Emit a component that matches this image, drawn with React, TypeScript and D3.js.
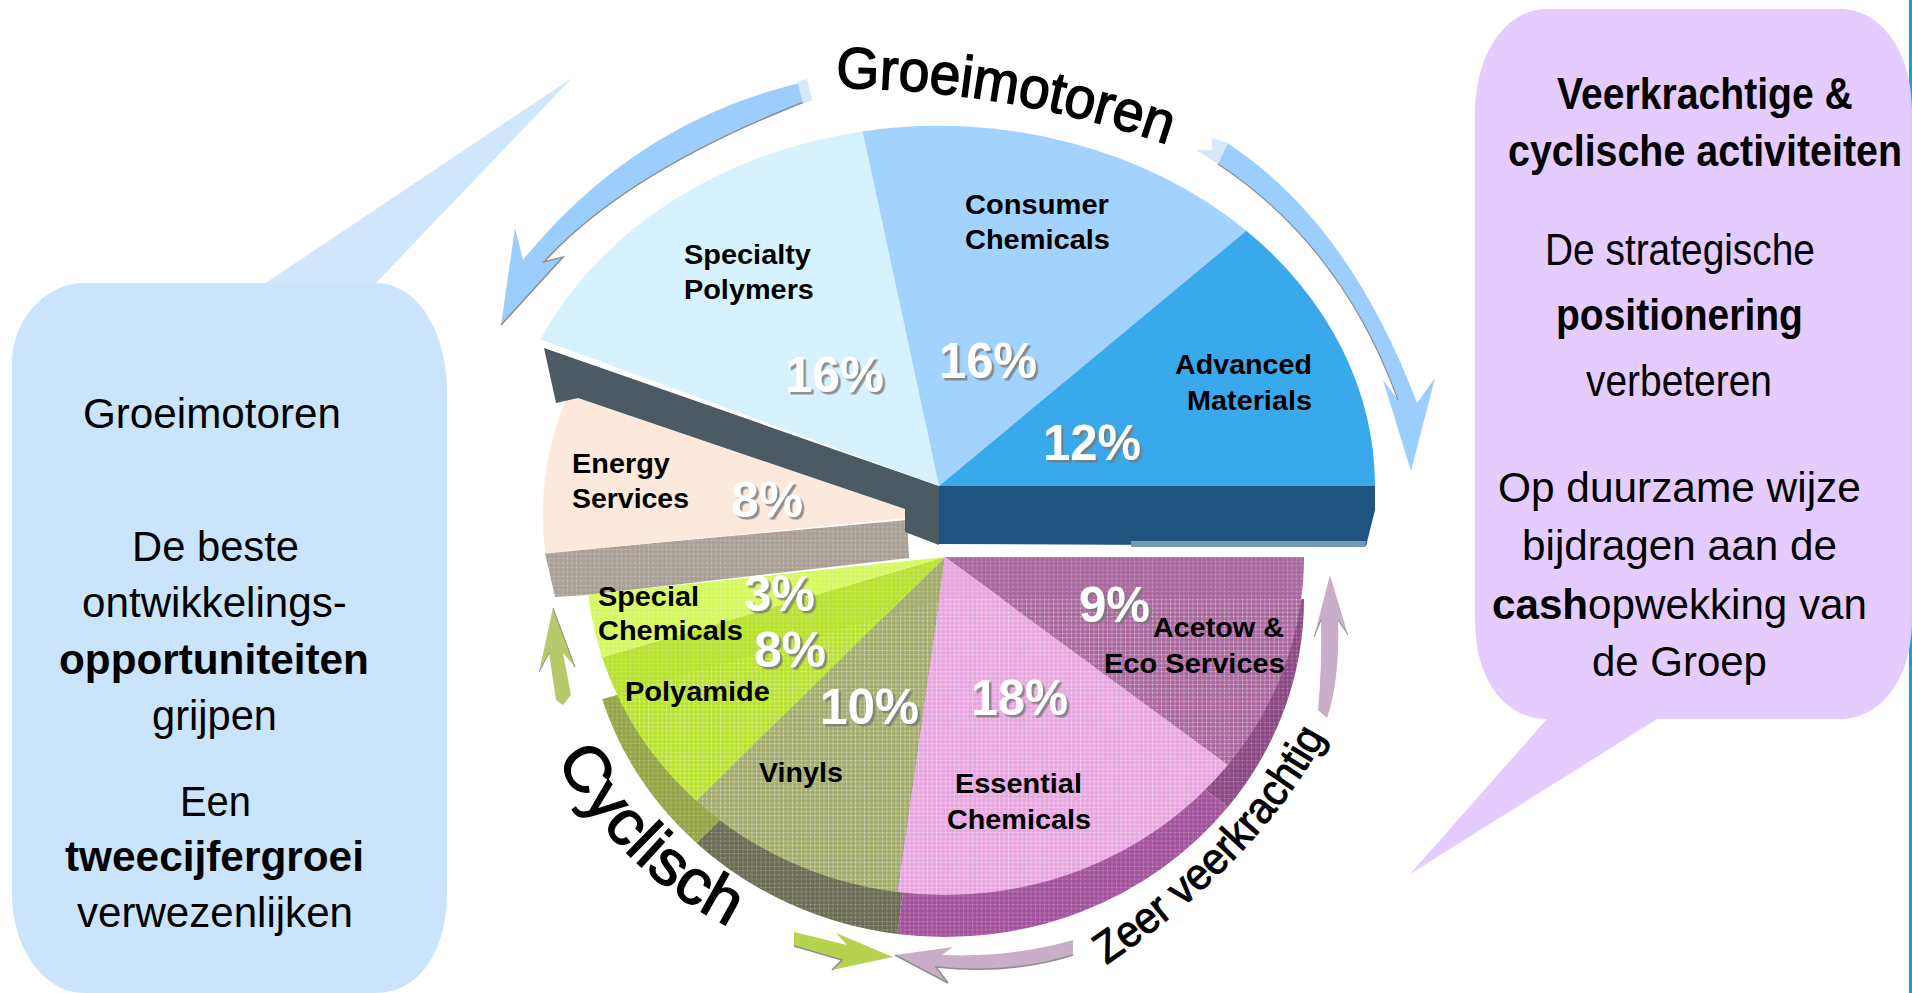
import React from 'react';
import * as d3 from 'd3';

// ---------- data ----------
const growthCategories = [['Specialty', 'Polymers'], ['Consumer', 'Chemicals'], ['Advanced', 'Materials']];
const growthShares = [16, 16, 12];
const energyCategories = [['Energy', 'Services']];
const energyShares = [8];
const resilientCategories = [['Acetow &', 'Eco Services'], ['Essential', 'Chemicals'], ['Vinyls'], ['Polyamide'], ['Special', 'Chemicals']];
const resilientShares = [9, 18, 10, 8, 3];

const leftLines = [
  ['Groeimotoren', 83, 341, 428, 400],
  ['De beste', 132, 299, 561, 400],
  ['ontwikkelings-', 82, 347, 617, 400],
  ['opportuniteiten', 59, 369, 674, 700],
  ['grijpen', 152, 277, 730, 400],
  ['Een', 180, 251, 816, 400],
  ['tweecijfergroei', 65, 364, 871, 700],
  ['verwezenlijken', 77, 353, 927, 400],
] as const;
const rightLines = [
  ['Veerkrachtige &', 1557, 1853, 109, 700],
  ['cyclische activiteiten', 1508, 1902, 166, 700],
  ['De strategische', 1545, 1815, 265, 400],
  ['positionering', 1556, 1803, 330, 700],
  ['verbeteren', 1586, 1772, 396, 400],
  ['Op duurzame wijze', 1498, 1861, 502, 400],
  ['bijdragen aan de', 1522, 1837, 560, 400],
  ['de Groep', 1592, 1767, 676, 400],
] as const;

// ---------- layout ----------
const W = 1912, H = 993;
const FONT = '"Liberation Sans", Arial, sans-serif';
const rad = (d: number) => (d * Math.PI) / 180;

const topPie = { cx: 939, cy: 486, rx: 436, ry: 360, from: -66, to: 90 };
const energyPie = { cx: 926, cy: 516, rx: 383, ry: 340, from: 263.6, to: 292.4 };
const lowPie = { cx: 945, cy: 557, rx: 359, ry: 338, depth: 42, from: 90, to: 263.6 };
// picture's small perspective deviation at slice boundaries (degrees, per slice end)
const topNudge = [-0.8, -2.6, 0];
const lowNudge = [5.4, 0, 0, 0, 0];

const topFill = ['#d6f2ff', '#a2d2fe', '#39a9ec'];
const lowFill = ['#a9689f', '#e7a6df', '#a3ac6d', '#b9e12f', '#d6f85e'];
const lowSide = ['#8b4a84', '#a3539c', '#6c6d54', '#95a445', 'none'];
const energyFill = '#fde8dc';

const unitArc = d3.arc<any>().innerRadius(0).outerRadius(1);
function slices(values: number[], from: number, to: number, nudge: number[] = []) {
  const pie = d3.pie<number>().sort(null).value((d) => d).startAngle(rad(from)).endAngle(rad(to));
  const out = pie(values).map((a) => ({ ...a }));
  out.forEach((s, i) => {
    const n = rad(nudge[i] ?? 0);
    s.endAngle += n;
    if (out[i + 1]) out[i + 1].startAngle += n;
  });
  return out;
}

// natural text width, used to condense each line to the reference's measured span
const measureCtx = document.createElement('canvas').getContext('2d') as CanvasRenderingContext2D;
function natural(t: string, size: number, w: number) {
  measureCtx.font = `${w} ${size}px "Liberation Sans", Arial, sans-serif`;
  return measureCtx.measureText(t).width;
}

function Txt({ t, x0, x1, y, w = 400, size = 28, fill = '#000', filter }: any) {
  const k = (x1 - x0) / natural(t, size, w);
  return (
    <text transform={`translate(${x0},${y}) scale(${k},1)`} fontFamily={FONT}
      fontSize={size} fontWeight={w} fill={fill} filter={filter}>{t}</text>
  );
}

const sliceLabels = [
  ['Specialty', 684, 811, 264], ['Polymers', 684, 814, 299],
  ['Consumer', 965, 1109, 214], ['Chemicals', 965, 1110, 249],
  ['Advanced', 1175, 1312, 374], ['Materials', 1187, 1312, 410],
  ['Energy', 572, 670, 473], ['Services', 572, 689, 508],
  ['Special', 598, 699, 606], ['Chemicals', 598, 743, 640],
  ['Polyamide', 625, 770, 701], ['Vinyls', 759, 843, 782],
  ['Essential', 955, 1082, 793], ['Chemicals', 947, 1091, 829],
  ['Acetow &', 1153, 1284, 637], ['Eco Services', 1104, 1285, 673],
] as const;
const pctPos = [
  [growthShares[0], 785, 884, 392], [growthShares[1], 939, 1037, 378], [growthShares[2], 1043, 1141, 460],
  [energyShares[0], 731, 803, 517],
  [resilientShares[4], 744, 815, 611], [resilientShares[3], 754, 826, 667], [resilientShares[2], 820, 919, 724],
  [resilientShares[1], 971, 1068, 715], [resilientShares[0], 1079, 1150, 622],
] as const;

export default function App() {
  const top = slices(growthShares, topPie.from, topPie.to, topNudge);
  const energy = slices(energyShares, energyPie.from, energyPie.to);
  const low = slices(resilientShares, lowPie.from, lowPie.to, lowNudge);
  const lowArc = d3.arc<any>().innerRadius(0).outerRadius(lowPie.rx);
  const lowScale = `scale(1,${lowPie.ry / lowPie.rx})`;
  const cashK = 375 / (natural('cash', 43, 700) + natural('opwekking van', 43, 400));
  return (
    <svg width={W} height={H} viewBox={`0 0 ${W} ${H}`} style={{ position: 'fixed', left: 0, top: 0, display: 'block', background: '#fff' }}>
      <defs>
        <pattern id="dither" width="4.5" height="4.5" patternUnits="userSpaceOnUse">
          <rect width="4.5" height="1" fill="#fff" opacity="0.1" />
          <rect width="1" height="4.5" fill="#fff" opacity="0.1" />
          <rect width="1" height="1" fill="#fff" opacity="0.3" />
        </pattern>
        <filter id="pctShadow" x="-10%" y="-10%" width="130%" height="130%">
          <feDropShadow dx="2.5" dy="2.5" stdDeviation="0.5" floodColor="#777" floodOpacity="0.8" />
        </filter>
        <clipPath id="energyClip"><path d="M 500 371.5 L 906 509.3 V 610 H 500 Z" /></clipPath>
        <path id="pathGroei" d="M 836 88 Q 1005 88 1172 146" />
        <path id="pathCyc" d="M 556 760 Q 625 880 744 934" />
        <path id="pathZeer" d="M 1106 965 Q 1262 860 1330 728" />
      </defs>

      {/* right edge strip */}
      <rect x={1909} y={0} width={3} height={H} fill="#00a8e4" />

      {/* call-outs */}
      <path d="M 264 284 L 572 78 L 375 284 Z" fill="#cfe6fd" />
      <path d="M 84 283 H 375 C 420 283 447 335 447 393 V 893 C 447 950 420 993 375 993 H 84 C 45 993 12 950 12 893 V 363 C 12 320 45 283 84 283 Z" fill="#cae4fc" />
      <path d="M 1547 9 H 1840 C 1880 9 1912 50 1912 110 V 620 C 1912 680 1880 719 1840 719 H 1657 L 1410 874 L 1547 719 C 1505 719 1475 680 1475 620 V 114 C 1475 55 1505 9 1547 9 Z" fill="#e3caff" fillOpacity="0.97" />

      {/* blue arrows */}
      <path d="M 804 82 Q 636 121 523 260 L 515 228 L 501 325 L 563 257 L 544 262 Q 626 172 804 102 Z" fill="#9bcdfd" />
      <path d="M 804 102 Q 626 172 544 262 L 563 257 L 501 325" fill="none" stroke="#8d8d8d" strokeWidth="1.5" />
      <rect x="800" y="80" width="10" height="22" fill="#d5e9fb" transform="rotate(-14 805 91)" />
      <path d="M 1227 143 Q 1348 221 1417 403 L 1435 378 L 1411 471 L 1383 380 L 1398 400 Q 1342 246 1218 164 Z" fill="#9bcdfd" />
      <path d="M 1218 164 Q 1342 246 1398 400" fill="none" stroke="#8d8d8d" strokeWidth="1.2" />
      <path d="M 1180 150 L 1212 150 L 1212 138 L 1228 143 L 1218 164 L 1196 150 Z" fill="#d5e9fb" />

      {/* green / mauve arrows */}
      <path d="M 553 608 L 575 667 L 563 653 L 571 695 L 563 705 L 556 700 L 549 653 L 539 672 Z" fill="#b6ca6c" />
      <path d="M 553 608 L 575 667 M 539 672 L 549 653" fill="none" stroke="#8d8d8d" strokeWidth="1" />
      <path d="M 1330 575 L 1348 635 L 1338 620 Q 1340 680 1327 718 L 1318 710 Q 1322 670 1321 620 L 1314 637 Z" fill="#c9aec7" />
      <path d="M 1348 635 L 1338 620 M 1314 637 L 1321 620" fill="none" stroke="#8d8d8d" strokeWidth="1" />
      <path d="M 794 932 L 847 945 L 836 933 L 893 957 L 832 970 L 842 960 L 794 946 Z" fill="#b7d24d" />
      <path d="M 794 946 L 842 960 L 832 970" fill="none" stroke="#8d8d8d" strokeWidth="1.5" />
      <path d="M 1073 940 Q 1010 958 942 955 L 953 947 L 895 955 L 948 983 L 936 967 Q 1010 975 1073 955 Z" fill="#c9aec7" />
      <path d="M 895 955 L 948 983 L 936 967 Q 1010 975 1073 955" fill="none" stroke="#8d8d8d" strokeWidth="1.5" />

      {/* energy */}
      <path d="M 545 553 L 907 520 L 909 558 L 586 595 L 555 597 Z" fill="#a89f96" />
      <path d="M 545 553 L 907 520 L 909 558 L 586 595 L 555 597 Z" fill="url(#dither)" />
      <g clipPath="url(#energyClip)">
        {energy.map((s, i) => (
          <path key={i} d={unitArc(s) as string} fill={energyFill}
            transform={`translate(${energyPie.cx},${energyPie.cy}) scale(${energyPie.rx},${energyPie.ry})`} />
        ))}
      </g>

      {/* back wall of growth slices */}
      <path d="M 544 348 L 939 486 L 939 545 L 905 532 L 905 509 L 578 398 L 556 403 Z" fill="#4c5a63" />
      <path d="M 939 486 H 1375 L 1375 510 L 1366 546 L 939 544 Z" fill="#1f5380" />
      <path d="M 1131 541 H 1366 L 1365 547 H 1131 Z" fill="#7298b8" />

      {/* growth surfaces */}
      {top.map((s, i) => (
        <path key={i} d={unitArc(s) as string} fill={topFill[i]}
          transform={`translate(${topPie.cx},${topPie.cy}) scale(${topPie.rx},${topPie.ry})`} />
      ))}

      {/* resilient / cyclical: sides then surfaces, then the print's dither */}
      {low.map((s, i) => lowSide[i] === 'none' ? null : (
        <path key={i} d={lowArc(s) as string} fill={lowSide[i]}
          transform={`translate(${lowPie.cx},${lowPie.cy + lowPie.depth}) ${lowScale}`} />
      ))}
      {low.map((s, i) => (
        <path key={i} d={lowArc(s) as string} fill={lowFill[i]}
          transform={`translate(${lowPie.cx},${lowPie.cy}) ${lowScale}`} />
      ))}
      {low.map((s, i) => lowSide[i] === 'none' ? null : (
        <path key={i} d={lowArc(s) as string} fill="url(#dither)"
          transform={`translate(${lowPie.cx},${lowPie.cy + lowPie.depth}) ${lowScale}`} />
      ))}
      {low.map((s, i) => (
        <path key={i} d={lowArc(s) as string} fill="url(#dither)"
          transform={`translate(${lowPie.cx},${lowPie.cy}) ${lowScale}`} />
      ))}

      {/* curved headings */}
      <text fontFamily={FONT} fontSize="58" fill="#000" stroke="#000" strokeWidth="1.5">
        <textPath href="#pathGroei" textLength="338" lengthAdjust="spacingAndGlyphs">Groeimotoren</textPath>
      </text>
      <text fontFamily={FONT} fontSize="64" fill="#000" stroke="#000" strokeWidth="1.3">
        <textPath href="#pathCyc" textLength="244" lengthAdjust="spacingAndGlyphs">Cyclisch</textPath>
      </text>
      <text fontFamily={FONT} fontSize="44" fill="#000" stroke="#000" strokeWidth="1">
        <textPath href="#pathZeer" textLength="320" lengthAdjust="spacingAndGlyphs">Zeer veerkrachtig</textPath>
      </text>

      {/* slice labels */}
      {sliceLabels.map(([t, x0, x1, y], i) => <Txt key={i} t={t} x0={x0} x1={x1} y={y} w={700} size={28} />)}
      {pctPos.map(([v, x0, x1, y], i) => (
        <Txt key={i} t={`${v}%`} x0={x0} x1={x1} y={y} w={700} size={50} fill="#fff" filter="url(#pctShadow)" />
      ))}

      {/* call-out text */}
      {leftLines.map(([t, x0, x1, y, w], i) => <Txt key={i} t={t} x0={x0} x1={x1} y={y} w={w} size={42} />)}
      {rightLines.map(([t, x0, x1, y, w], i) => <Txt key={i} t={t} x0={x0} x1={x1} y={y} w={w} size={i < 5 ? 44 : 43} />)}
      <text transform={`translate(1492,619) scale(${cashK},1)`} fontFamily={FONT} fontSize={43}>
        <tspan fontWeight={700}>cash</tspan>opwekking van
      </text>
    </svg>
  );
}
